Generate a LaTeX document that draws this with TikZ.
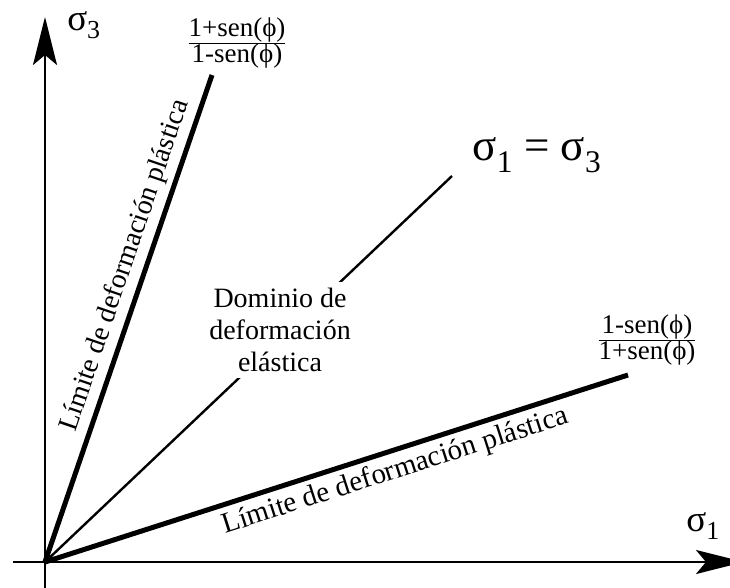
\documentclass[tikz,border=0pt]{standalone}
\usepackage{fontspec}
\setmainfont{Liberation Serif}
\usetikzlibrary{arrows.meta}

\begin{document}
\begin{tikzpicture}[
    x=1pt, y=-1pt,
    >={Stealth[length=48pt, width=24pt, inset=10pt]},
    axis/.style={->, line width=2.4pt},
    limit/.style={line width=5pt},
    bisect/.style={line width=2.4pt},
    lbl/.style={font=\fontsize{28}{32}\selectfont, inner sep=0pt, text=black},
    axlbl/.style={font=\fontsize{37}{42}\selectfont, inner sep=0pt},
    biglbl/.style={font=\fontsize{45}{50}\selectfont, inner sep=0pt},
    ratio/.style={font=\fontsize{27}{30}\selectfont, inner sep=0pt},
  ]
  \useasboundingbox (0,0) rectangle (730,588);

  % axes
  \coordinate (O) at (45,562);
  \coordinate (xfrom) at (13,562);
  \coordinate (xto) at (744,562);
  \coordinate (yfrom) at (45,592);
  \coordinate (yto) at (45,17);
  \draw[axis] (xfrom) -- (xto);
  \draw[axis] (yfrom) -- (yto);
  \node[axlbl] (s3) at (84,25) {σ\textsubscript{3}};
  \node[axlbl] (s1) at (703,526) {σ\textsubscript{1}};

  % line sigma1 = sigma3
  \coordinate (diagend) at (452,176);
  \draw[bisect] (O) -- (diagend);
  \node[biglbl] (eq) at (537,155) {σ\textsubscript{1} = σ\textsubscript{3}};
  \node[lbl, fill=white, align=center, inner xsep=2pt, inner ysep=6pt] (elastic) at (280,330)
    {Dominio de\\deformación\\elástica};

  % plastic limits
  \coordinate (upend) at (212,75);
  \coordinate (lowend) at (628,375);
  \draw[limit] (O) -- node[lbl, sloped, above, pos=0.595, inner sep=5pt] (uplbl)
    {Límite de deformación plástica} (upend);
  \draw[limit] (O) -- node[lbl, sloped, below, pos=0.59, inner sep=5pt,
    font=\fontsize{29}{32}\selectfont] (lowlbl)
    {Límite de deformación plástica} (lowend);
  \node[ratio] (kup) at (237,43)
    {$\frac{\mbox{1+sen(ϕ)}}{\mbox{1-sen(ϕ)}}$};
  \node[ratio] (klow) at (647,340)
    {$\frac{\mbox{1-sen(ϕ)}}{\mbox{1+sen(ϕ)}}$};
\end{tikzpicture}
\end{document}
